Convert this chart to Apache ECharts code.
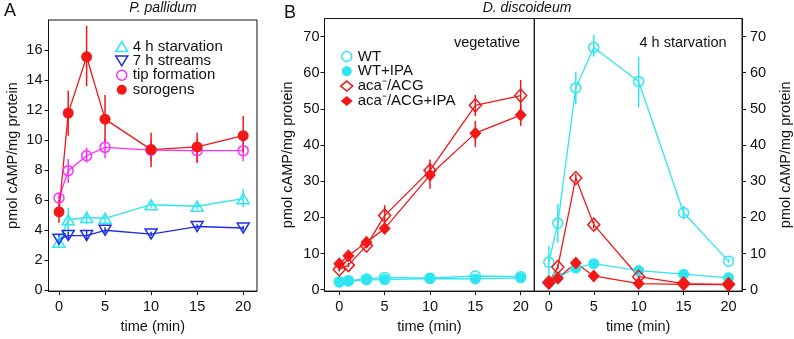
<!DOCTYPE html>
<html>
<head>
<meta charset="utf-8">
<script src="https://cdn.jsdelivr.net/npm/echarts@6/dist/echarts.min.js"></script>
<style>
  html, body { margin: 0; padding: 0; background: #fff; }
  #chart { width: 794px; height: 339px; }
</style>
</head>
<body>
<div id="chart"></div>
<script>
// time points (min), shared by all panels
var times = [0, 1, 3, 5, 10, 15, 20];
var xTicks = [0, 5, 10, 15, 20];
var yTicksA = [0, 2, 4, 6, 8, 10, 12, 14, 16];
var yTicksB = [0, 10, 20, 30, 40, 50, 60, 70];

// Panel A - P. pallidum
var starv4h = [3.2, 4.7, 4.85, 4.8, 5.7, 5.6, 6.1];
var starv4hLo = [2.9, 4.0, 4.4, 4.5, 5.5, 5.4, 5.55];
var starv4hHi = [3.5, 5.5, 5.3, 5.1, 5.9, 5.8, 6.75];
var streams7h = [3.4, 3.65, 3.65, 4.0, 3.75, 4.25, 4.15];
var streams7hLo = [3.1, 3.4, 3.3, 3.8, 3.6, 4.1, 4.0];
var streams7hHi = [3.7, 3.9, 4.0, 4.2, 3.9, 4.4, 4.3];
var tipForm = [6.15, 7.97, 8.96, 9.52, 9.33, 9.3, 9.3];
var tipFormLo = [5.8, 7.15, 8.5, 8.8, 8.6, 8.5, 8.6];
var tipFormHi = [6.5, 8.75, 9.5, 10.1, 10.0, 10.1, 10.1];
var sorogens = [5.23, 11.8, 15.55, 11.4, 9.37, 9.55, 10.3];
var sorogensLo = [4.5, 10.3, 13.6, 9.9, 8.2, 8.5, 9.2];
var sorogensHi = [6.0, 13.3, 17.6, 13.0, 10.5, 10.5, 11.6];

// Panel B - D. discoideum, vegetative
var vegWT = [2.2, 2.5, 3.0, 3.4, 3.2, 3.8, 3.6];
var vegWTIPA = [2.1, 2.4, 2.7, 2.8, 3.1, 3.0, 3.3];
var vegAca = [5.6, 6.8, 12.2, 20.5, 33.0, 51.0, 53.7];
var vegAcaLo = [5.0, 6.2, 11.5, 18.3, 30.0, 48.0, 50.0];
var vegAcaHi = [6.2, 7.4, 13.0, 23.4, 36.0, 53.9, 58.0];
var vegAcaIPA = [7.2, 9.4, 13.1, 16.9, 31.7, 43.3, 48.3];
var vegAcaIPALo = [6.6, 8.8, 12.4, 16.0, 27.9, 39.5, 45.3];
var vegAcaIPAHi = [7.8, 10.0, 13.8, 17.8, 35.0, 46.7, 51.3];

// Panel B - D. discoideum, 4 h starvation
var stvWT = [7.6, 18.4, 55.8, 67.0, 57.6, 21.3, 7.9];
var stvWTLo = [3.0, 13.0, 51.3, 64.4, 50.4, 19.5, 7.4];
var stvWTHi = [12.1, 23.8, 60.3, 70.6, 64.5, 23.2, 8.5];
var stvWTIPA = [2.0, 3.5, 6.0, 7.2, 5.3, 4.3, 3.3];
var stvAca = [2.0, 6.3, 30.9, 18.0, 3.6, 1.7, 1.5];
var stvAcaLo = [1.6, 5.6, 30.0, 17.0, 3.0, 1.4, 1.2];
var stvAcaHi = [2.4, 7.0, 32.0, 19.0, 4.2, 2.0, 1.8];
var stvAcaIPA = [1.8, 3.2, 7.4, 3.8, 1.7, 1.5, 1.4];

var cyan = '#2ee6f2';
var blue = '#1f2fe0';
var magenta = '#ff2cff';
var red = '#f21818';
var font = 'Liberation Sans, Arial, sans-serif';
var fs = 14.5;

function pairs(vals) {
  return times.map(function (t, i) { return [t, vals[i]]; });
}

function lineSeries(name, vals, color, symbol, size, hollow, axis) {
  return {
    type: 'line',
    name: name,
    xAxisIndex: axis,
    yAxisIndex: axis,
    data: pairs(vals),
    symbol: symbol,
    symbolSize: size,
    showAllSymbol: true,
    lineStyle: { color: color, width: 1.3 },
    itemStyle: hollow
      ? { color: 'transparent', borderColor: color, borderWidth: 1.5 }
      : { color: color, borderWidth: 0 },
    emphasis: { disabled: true },
    animation: false,
    z: 3
  };
}

function errSeries(name, lo, hi, color, axis) {
  return {
    type: 'custom',
    name: name + ' err',
    xAxisIndex: axis,
    yAxisIndex: axis,
    silent: true,
    animation: false,
    z: 2,
    data: times.map(function (t, i) { return [t, lo[i], hi[i]]; }),
    renderItem: function (params, api) {
      var a = api.coord([api.value(0), api.value(1)]);
      var b = api.coord([api.value(0), api.value(2)]);
      return {
        type: 'line',
        shape: { x1: a[0], y1: a[1], x2: b[0], y2: b[1] },
        style: { stroke: color, lineWidth: 1.5 }
      };
    }
  };
}

function xAxis(idx, min) {
  return {
    type: 'value', gridIndex: idx, min: min, max: 21.5,
    name: 'time (min)', nameLocation: 'middle', nameGap: 27,
    nameTextStyle: { fontFamily: font, fontSize: fs, color: '#111' },
    axisLine: { show: true, onZero: false, lineStyle: { color: '#111', width: 1 } },
    axisTick: { show: true, length: 4, customValues: xTicks, lineStyle: { color: '#111' } },
    axisLabel: { customValues: xTicks, margin: 8, fontFamily: font, fontSize: fs, color: '#111' },
    splitLine: { show: false }
  };
}

function yAxis(idx, min, max, ticks, pos, gap, margin) {
  return {
    type: 'value', gridIndex: idx, min: min, max: max, position: pos,
    name: 'pmol cAMP/mg protein',
    nameLocation: 'middle', nameGap: gap,
    nameTextStyle: { fontFamily: font, fontSize: fs, color: '#111' },
    axisLine: { show: true, onZero: false, lineStyle: { color: '#111', width: 1 } },
    axisTick: { show: true, length: 4, customValues: ticks, lineStyle: { color: '#111' } },
    axisLabel: { customValues: ticks, margin: margin, fontFamily: font, fontSize: fs, color: '#111' },
    splitLine: { show: false }
  };
}

function legendItem(name, icon, color, hollow) {
  return {
    name: name,
    icon: icon,
    itemStyle: hollow
      ? { color: 'transparent', borderColor: color, borderWidth: 1.5 }
      : { color: color, borderWidth: 0 }
  };
}

var triDown = 'path://M0,0L12,0L6,10Z';

var chart = echarts.init(document.getElementById('chart'), null, { renderer: 'canvas' });

chart.setOption({
  animation: false,
  backgroundColor: '#fff',
  textStyle: { fontFamily: font },
  grid: [
    { left: 48.5, top: 20, width: 208.5, height: 277.5, show: true, borderColor: '#111', borderWidth: 1, backgroundColor: 'transparent' },
    { left: 324.5, top: 18.5, width: 209.8, height: 278.2, show: true, borderColor: '#111', borderWidth: 1, backgroundColor: 'transparent' },
    { left: 534.3, top: 18.5, width: 209, height: 278.2, show: true, borderColor: '#111', borderWidth: 1, backgroundColor: 'transparent' }
  ],
  xAxis: [xAxis(0, -1.14), xAxis(1, -1.63), xAxis(2, -1.62)],
  yAxis: [
    yAxis(0, -0.05, 18, yTicksA, 'left', 28, 6),
    yAxis(1, -0.38, 75, yTicksB, 'left', 29, 5),
    yAxis(2, -0.38, 75, yTicksB, 'right', 36, 8)
  ],
  legend: [
    {
      left: 110, top: 34, orient: 'vertical',
      itemWidth: 12, itemHeight: 10, itemGap: -0.6,
      textStyle: { fontFamily: font, fontSize: 15, color: '#111' },
      selectedMode: false,
      data: [
        legendItem('4 h starvation', 'triangle', cyan, true),
        legendItem('7 h streams', triDown, blue, true),
        legendItem('tip formation', 'circle', magenta, true),
        legendItem('sorogens', 'circle', red, false)
      ]
    },
    {
      left: 335, top: 44, orient: 'vertical',
      itemWidth: 12, itemHeight: 10, itemGap: -0.2,
      textStyle: { fontFamily: font, fontSize: 15, color: '#111' },
      selectedMode: false,
      data: [
        legendItem('WT', 'circle', cyan, true),
        legendItem('WT+IPA', 'circle', cyan, false),
        legendItem('aca\u207B/ACG', 'diamond', red, true),
        legendItem('aca\u207B/ACG+IPA', 'diamond', red, false)
      ]
    }
  ],
  graphic: [
    { type: 'text', left: 4, top: 2, style: { text: 'A', font: '18px ' + font, fill: '#111' } },
    { type: 'text', left: 284, top: 4, style: { text: 'B', font: '18px ' + font, fill: '#111' } },
    { type: 'text', x: 163, y: 8, style: { text: 'P. pallidum', font: 'italic 14px ' + font, fill: '#111', align: 'center', verticalAlign: 'middle' } },
    { type: 'text', x: 527, y: 8, style: { text: 'D. discoideum', font: 'italic 14px ' + font, fill: '#111', align: 'center', verticalAlign: 'middle' } },
    { type: 'text', x: 487, y: 43, style: { text: 'vegetative', font: fs + 'px ' + font, fill: '#111', align: 'center', verticalAlign: 'middle' } },
    { type: 'text', x: 683, y: 43, style: { text: '4 h starvation', font: fs + 'px ' + font, fill: '#111', align: 'center', verticalAlign: 'middle' } }
  ],
  series: [
    // panel A
    errSeries('4 h starvation', starv4hLo, starv4hHi, cyan, 0),
    errSeries('7 h streams', streams7hLo, streams7hHi, blue, 0),
    errSeries('tip formation', tipFormLo, tipFormHi, magenta, 0),
    errSeries('sorogens', sorogensLo, sorogensHi, red, 0),
    lineSeries('4 h starvation', starv4h, cyan, 'triangle', [12, 10], true, 0),
    lineSeries('7 h streams', streams7h, blue, triDown, [12, 10], true, 0),
    lineSeries('tip formation', tipForm, magenta, 'circle', 10, true, 0),
    lineSeries('sorogens', sorogens, red, 'circle', 11, false, 0),
    // panel B vegetative
    errSeries('aca\u207B/ACG', vegAcaLo, vegAcaHi, red, 1),
    errSeries('aca\u207B/ACG+IPA', vegAcaIPALo, vegAcaIPAHi, red, 1),
    lineSeries('WT', vegWT, cyan, 'circle', 10, true, 1),
    lineSeries('WT+IPA', vegWTIPA, cyan, 'circle', 11, false, 1),
    lineSeries('aca\u207B/ACG', vegAca, red, 'diamond', [12, 13], true, 1),
    lineSeries('aca\u207B/ACG+IPA', vegAcaIPA, red, 'diamond', [12, 13], false, 1),
    // panel B 4 h starvation
    errSeries('WT', stvWTLo, stvWTHi, cyan, 2),
    errSeries('aca\u207B/ACG', stvAcaLo, stvAcaHi, red, 2),
    lineSeries('WT', stvWT, cyan, 'circle', 10, true, 2),
    lineSeries('WT+IPA', stvWTIPA, cyan, 'circle', 11, false, 2),
    lineSeries('aca\u207B/ACG', stvAca, red, 'diamond', [12, 13], true, 2),
    lineSeries('aca\u207B/ACG+IPA', stvAcaIPA, red, 'diamond', [12, 13], false, 2)
  ]
});
</script>
</body>
</html>
